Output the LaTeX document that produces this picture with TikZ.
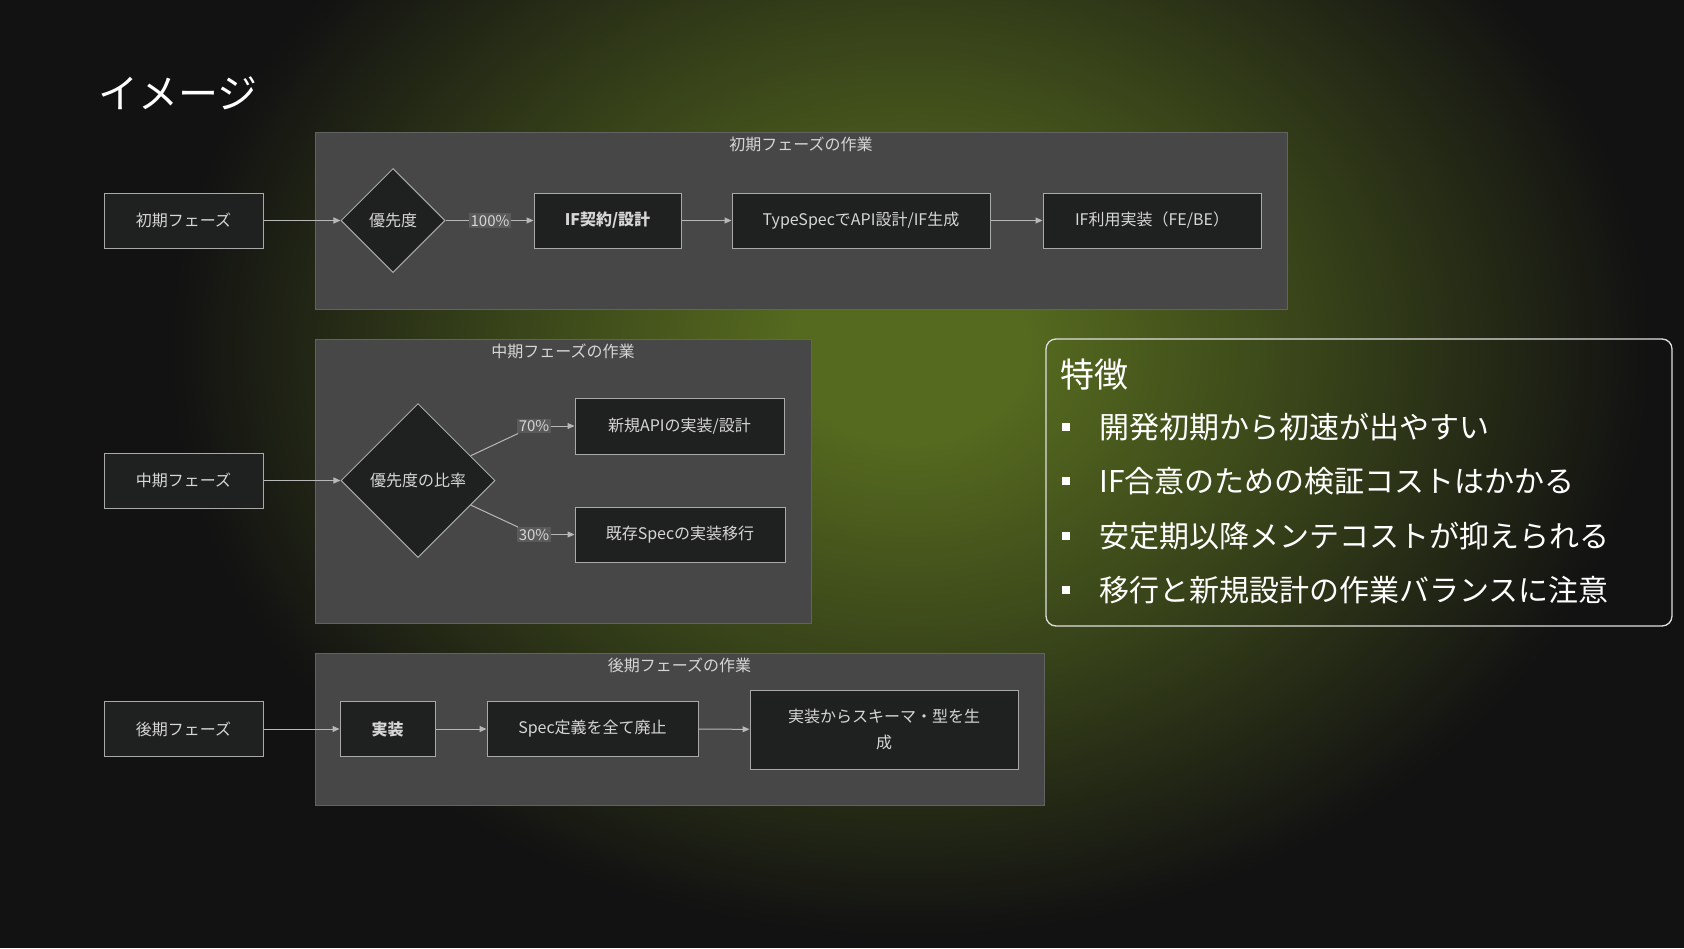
\documentclass[tikz,border=0pt]{standalone}
\usepackage{fontspec}
\setmainfont{Noto Sans CJK JP}
\usetikzlibrary{shapes.geometric,arrows.meta}

\definecolor{bgcol}{HTML}{121212}
\definecolor{glowcol}{HTML}{55691F}
\pgfdeclareradialshading{glow}{\pgfpoint{0bp}{0bp}}{color(0bp)=(glowcol); color(4bp)=(glowcol); color(14bp)=(glowcol!55!bgcol); color(25bp)=(bgcol); color(50bp)=(bgcol)}

\begin{document}
\begin{tikzpicture}[x=1pt,y=-1pt,
    phase/.style={draw=nodeline, fill=nodefill, text=nodetext, line width=1pt,
        minimum height=55, inner sep=0, font=\fontsize{16}{20}\selectfont},
    choice/.style={diamond, draw=nodeline, fill=nodefill, text=nodetext, line width=1pt,
        inner sep=0, font=\fontsize{16}{20}\selectfont},
    group/.style={draw=groupline, fill=groupfill, line width=1pt, inner sep=0},
    grouplabel/.style={text=nodetext, font=\fontsize{16}{20}\selectfont, anchor=north},
    pct/.style={fill=lblfill, text=nodetext, inner sep=1.5pt, font=\fontsize{15}{18}\selectfont},
    edge/.style={draw=edgecol, line width=1pt, -{Triangle[length=7pt,width=6pt]}},
    plain/.style={draw=edgecol, line width=1pt}]

    % Colours
    \definecolor{groupfill}{HTML}{474747}
    \definecolor{groupline}{HTML}{626262}
    \definecolor{nodefill}{HTML}{1F2020}
    \definecolor{nodeline}{HTML}{A9A9A9}
    \definecolor{nodetext}{HTML}{D6D6D6}
    \definecolor{edgecol}{HTML}{B8B8B8}
    \definecolor{lblfill}{HTML}{5A5A5A}

    % Background with glow
    \useasboundingbox (0,0) rectangle (1684,948);
    \fill[bgcol] (0,0) rectangle (1684,948);
    \begin{scope}
        \clip (0,0) rectangle (1684,948);
        \shade[shading=glow] (910,350) ellipse [x radius=740pt, y radius=585pt];
    \end{scope}

    % Title
    \node[anchor=west, text=white, font=\fontsize{40}{48}\selectfont] (title) at (95,93) {イメージ};

    % Groups
    \node[group, minimum width=972, minimum height=177] (g1) at (801,220.5) {};
    \node[group, minimum width=496, minimum height=284] (g2) at (563,481) {};
    \node[group, minimum width=729, minimum height=152] (g3) at (679.5,729) {};
    \node[grouplabel] (g1lbl) at ([yshift=-2pt]g1.north) {初期フェーズの作業};
    \node[grouplabel] (g2lbl) at ([yshift=-2pt]g2.north) {中期フェーズの作業};
    \node[grouplabel] (g3lbl) at ([yshift=-2pt]g3.north) {後期フェーズの作業};

    % Early phase
    \node[phase, minimum width=159] (early) at (183.5,220.5) {初期フェーズ};
    \node[choice, minimum width=104, minimum height=104] (prio) at (393,220.5) {優先度};
    \node[pct] (p100) at (490,220.5) {100\%};
    \node[phase, minimum width=147, font=\fontsize{16}{20}\selectfont\bfseries] (ifdesign) at (607.5,220.5) {IF契約/設計};
    \node[phase, minimum width=258] (typespec) at (861,220.5) {TypeSpecでAPI設計/IF生成};
    \node[phase, minimum width=218] (ifimpl) at (1152,220.5) {IF利用実装（FE/BE）};

    \draw[edge] (early) -- (prio);
    \draw[plain] (prio) -- (p100);
    \draw[edge] (p100) -- (ifdesign);
    \draw[edge] (ifdesign) -- (typespec);
    \draw[edge] (typespec) -- (ifimpl);

    % Middle phase
    \node[phase, minimum width=159] (middle) at (183.5,480.5) {中期フェーズ};
    \node[choice, minimum width=154, minimum height=154] (ratio) at (418,480.5) {優先度の比率};
    \node[pct] (p70) at (534,426) {70\%};
    \node[pct] (p30) at (534,534.5) {30\%};
    \node[phase, minimum width=209, minimum height=56] (newapi) at (679.5,426) {新規APIの実装/設計};
    \node[phase, minimum width=210] (oldspec) at (680,534.5) {既存Specの実装移行};

    \draw[edge] (middle) -- (ratio);
    \draw[plain] (ratio) -- (p70);
    \draw[plain] (ratio) -- (p30);
    \draw[edge] (p70) -- (newapi);
    \draw[edge] (p30) -- (oldspec);

    % Late phase
    \node[phase, minimum width=159] (late) at (183.5,729) {後期フェーズ};
    \node[phase, minimum width=95, font=\fontsize{16}{20}\selectfont\bfseries] (impl) at (387.5,729) {実装};
    \node[phase, minimum width=211] (nospec) at (592.5,729) {Spec定義を全て廃止};
    \node[phase, minimum width=268, minimum height=79, align=center,
        font=\fontsize{16}{26}\selectfont] (gen) at (884,729.5) {実装からスキーマ・型を生\\成};

    \draw[edge] (late) -- (impl);
    \draw[edge] (impl) -- (nospec);
    \draw[edge] (nospec) -- (gen);

    % Features
    \node[draw=white!88!black, rounded corners=10pt, line width=1.3pt, minimum width=626,
        minimum height=287, inner sep=0] (feat) at (1359,482.5) {};
    \node[anchor=west, text=white, font=\fontsize{34}{40}\selectfont] (feattitle) at (1057,375) {特徴};
    \foreach \txt [count=\i from 0] in {開発初期から初速が出やすい, IF合意のための検証コストはかかる,
            安定期以降メンテコストが抑えられる, 移行と新規設計の作業バランスに注意} {
        \node[fill=white, minimum size=8, inner sep=0] (bul\i) at (1066,427+\i*54.3) {};
        \node[anchor=west, text=white, font=\fontsize{30}{36}\selectfont] (item\i) at (1096,427+\i*54.3) {\txt};
    }

\end{tikzpicture}
\end{document}
